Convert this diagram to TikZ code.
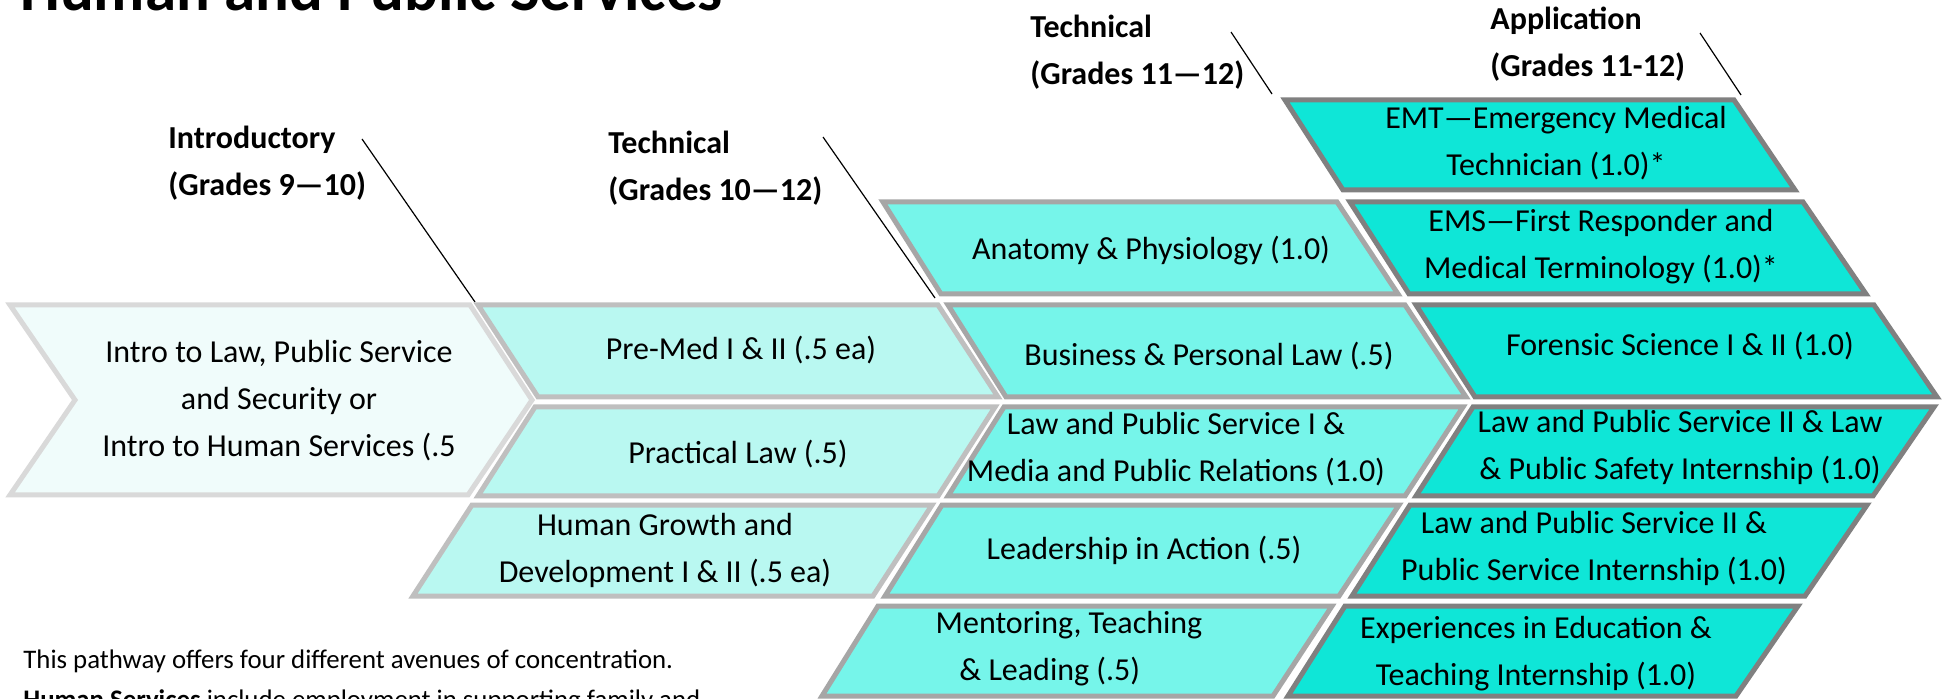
\documentclass[tikz,border=0pt]{standalone}
\usepackage{fontspec}
\setmainfont{Carlito}
\usepackage{tikz}
\definecolor{introfill}{HTML}{F0FCFB}
\definecolor{introline}{HTML}{D9D9D9}
\definecolor{techafill}{HTML}{B9F8F1}
\definecolor{techaline}{HTML}{BFBFBF}
\definecolor{techbfill}{HTML}{76F5EA}
\definecolor{techbline}{HTML}{A6A6A6}
\definecolor{appfill}{HTML}{0FE6D7}
\definecolor{appline}{HTML}{808080}
\tikzset{
  introshape/.style={draw=introline, fill=introfill, line width=2.5pt},
  techashape/.style={draw=techaline, fill=techafill, line width=2.5pt},
  techbshape/.style={draw=techbline, fill=techbfill, line width=2.5pt},
  appshape/.style={draw=appline, fill=appfill, line width=2.5pt},
  boxtext/.style={align=center, inner sep=0pt, font=\fontsize{16}{23.5}\selectfont},
  headtext/.style={align=left, anchor=west, inner sep=0pt, font=\bfseries\fontsize{16}{23.5}\selectfont},
  notetext/.style={anchor=base west, inner sep=0pt, font=\fontsize{13.4}{20}\selectfont},
  headline/.style={line width=0.6pt}
}

\begin{document}
\begin{tikzpicture}[x=0.5pt, y=-0.5pt]
  \useasboundingbox (0,0) rectangle (1947,699);
  \clip (0,0) rectangle (1947,699);
  \fill[white] (0,0) rectangle (1947,699);

  \node[anchor=base west, inner sep=0pt, font=\bfseries\fontsize{31.5}{36}\selectfont] at (20, 11) (title) {Human and Public Services};

  \node[headtext] at (168, 163.5) (introhead) {Introductory\\(Grades 9—10)};
  \node[headtext] at (608, 168)   (techahead) {Technical\\(Grades 10—12)};
  \node[headtext] at (1030, 52.5) (techbhead) {Technical\\(Grades 11—12)};
  \node[headtext] at (1490, 44.5) (apphead)   {Application\\(Grades 11-12)};

  \coordinate (introfrom) at (362, 139);
  \coordinate (introto)   at (475, 302);
  \coordinate (techafrom) at (823, 137);
  \coordinate (techato)   at (935, 298);
  \coordinate (techbfrom) at (1231, 32);
  \coordinate (techbto)   at (1272, 94);
  \coordinate (appfrom)   at (1700, 33);
  \coordinate (appto)     at (1741, 95);
  \draw[headline] (introfrom) -- (introto);
  \draw[headline] (techafrom) -- (techato);
  \draw[headline] (techbfrom) -- (techbto);
  \draw[headline] (appfrom) -- (appto);

  \draw[introshape] (10,305) -- (470,305) -- (532,400) -- (468,495) -- (10,495) -- (75,400) -- cycle;

  \draw[techashape] (478,305) -- (938,305) -- (998,397) -- (538,397) -- cycle;
  \draw[techashape] (535,407) -- (995,407) -- (938,496) -- (478,496) -- cycle;
  \draw[techashape] (472,505) -- (932,505) -- (873,596) -- (413,596) -- cycle;

  \draw[techbshape] (883,202) -- (1337,202) -- (1398,294) -- (941,294) -- cycle;
  \draw[techbshape] (948,305) -- (1405,305) -- (1466,397) -- (1006,397) -- cycle;
  \draw[techbshape] (1004,407) -- (1463,407) -- (1405,496) -- (948,496) -- cycle;
  \draw[techbshape] (942,505) -- (1399,505) -- (1339,596) -- (885,596) -- cycle;
  \draw[techbshape] (878,606) -- (1332,606) -- (1273,696) -- (822,696) -- cycle;

  \draw[appshape] (1285,100) -- (1734,100) -- (1795,190) -- (1343,190) -- cycle;
  \draw[appshape] (1350,202) -- (1803,202) -- (1866,294) -- (1409,294) -- cycle;
  \draw[appshape] (1416,305) -- (1874,305) -- (1937,397) -- (1475,397) -- cycle;
  \draw[appshape] (1473,407) -- (1934,407) -- (1873,496) -- (1416,496) -- cycle;
  \draw[appshape] (1410,505) -- (1867,505) -- (1805,596) -- (1352,596) -- cycle;
  \draw[appshape] (1345,606) -- (1798,606) -- (1736,696) -- (1288,696) -- cycle;

  \node[boxtext] at (279, 401)    (intro)      {Intro to Law, Public Service\\and Security or\\Intro to Human Services (.5};

  \node[boxtext] at (741, 350)    (premed)     {Pre-Med I \& II (.5 ea)};
  \node[boxtext] at (738, 454)    (practical)  {Practical Law (.5)};
  \node[boxtext] at (665, 550)    (growth)     {Human Growth and\\Development I \& II (.5 ea)};

  \node[boxtext] at (1151, 251)   (anatomy)    {Anatomy \& Physiology (1.0)};
  \node[boxtext] at (1209, 356)   (business)   {Business \& Personal Law (.5)};
  \node[boxtext] at (1176, 449.5) (lawone)     {Law and Public Service I \&\\Media and Public Relations (1.0)};
  \node[boxtext] at (1144, 550)   (leadership) {Leadership in Action (.5)};
  \node[boxtext] at (1069, 648.5) (mentoring)  {Mentoring, Teaching\\\& Leading (.5)\hspace*{1.2em}};

  \node[boxtext] at (1556, 143)   (emt)        {EMT—Emergency Medical\\Technician (1.0)*};
  \node[boxtext] at (1601, 246.5) (ems)        {EMS—First Responder and\\Medical Terminology (1.0)*};
  \node[boxtext] at (1680, 346)   (forensic)   {Forensic Science I \& II (1.0)};
  \node[boxtext] at (1680, 447.5) (lawsafety)  {Law and Public Service II \& Law\\\& Public Safety Internship (1.0)};
  \node[boxtext] at (1594, 548.5) (lawservice) {Law and Public Service II \&\\Public Service Internship (1.0)};
  \node[boxtext] at (1536, 653.5) (education)  {Experiences in Education \&\\Teaching Internship (1.0)};

  \node[notetext] at (23, 668) (noteone) {This pathway offers four different avenues of concentration.};
  \node[notetext] at (23, 708) (notetwo) {\textbf{Human Services} include employment in supporting family and};
\end{tikzpicture}
\end{document}
